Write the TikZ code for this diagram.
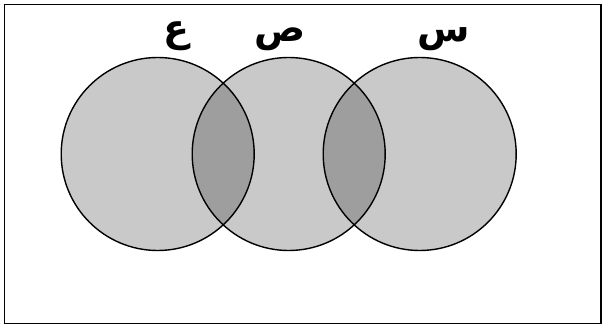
\documentclass[tikz,border=0pt]{standalone}
\usepackage{fontspec}
\usepackage{tikz}
\usetikzlibrary{positioning}
\TeXXeTstate=1
\newfontfamily\arabicfont[Script=Arabic]{DejaVu Sans}
\definecolor{setline}{RGB}{0,0,0}
\definecolor{setfill}{RGB}{0,0,0}
\tikzset{
  setcirc/.style={circle, draw=setline, line width=1.4pt, fill=setfill,
                  fill opacity=0.21, draw opacity=1, minimum size=193pt, inner sep=0pt},
  setlbl/.style={font=\arabicfont\bfseries\fontsize{38}{44}\selectfont,
                 inner sep=0pt, anchor=base},
}
\begin{document}
\begin{tikzpicture}[x=1pt,y=-1pt]
  \useasboundingbox (0,0) rectangle (603,326);
  \draw[line width=1.6pt] (4.5,4.5) rectangle (601,323.5);
  % the three sets
  \node[setcirc] (ain) at (157.7,154) {};
  \node[setcirc] (sad) at (288.7,154) {};
  \node[setcirc] (sin) at (419.7,154) {};
  % names above the sets
  \node[setlbl] (ainlbl) at (176,42) {\beginR ع\endR};
  \node[setlbl] (sadlbl) at (280,42) {\beginR ص\endR};
  \node[setlbl] (sinlbl) at (444,42) {\beginR س\endR};
\end{tikzpicture}
\end{document}
